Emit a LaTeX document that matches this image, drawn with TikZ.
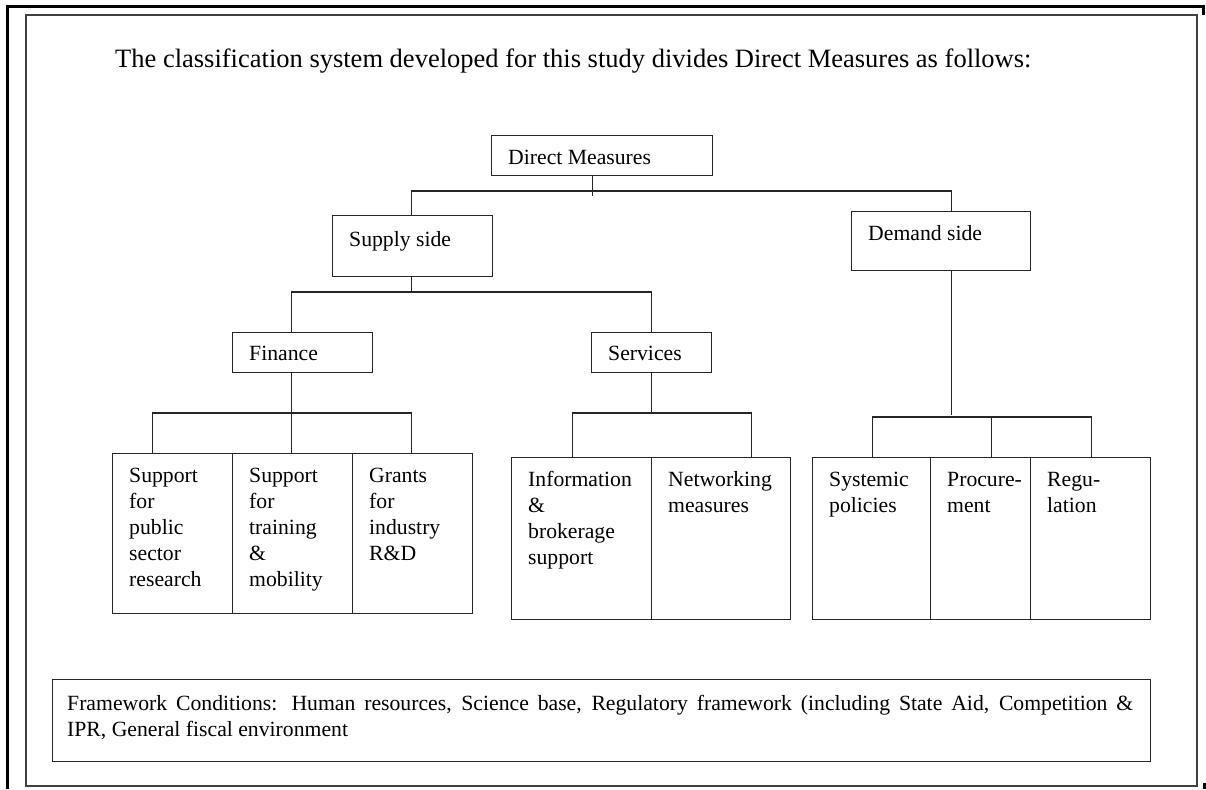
\documentclass[tikz,border=0pt]{standalone}
\usepackage{fontspec}
\setmainfont{Liberation Serif}
\usetikzlibrary{calc}
\tikzset{
  ln/.style={line width=1.2pt, draw=black!85},
  boxst/.style={ln, rectangle, inner sep=0pt},
  txt/.style={inner sep=0pt, anchor=base west, font=\fontsize{21.7}{26}\selectfont},
  titletxt/.style={inner sep=0pt, anchor=base west, font=\fontsize{26.5}{32}\selectfont},
  frameouter/.style={line width=3pt, draw=black},
  frameinner/.style={line width=1.5pt, draw=black!75},
}
% name, x1, y1, x2, y2, baseline offset, text
\newcommand\mybx[7]{%
  \node[boxst, anchor=north west, minimum width={#4-#2}, minimum height={#5-#3}] (#1) at (#2,#3) {};
  \node[txt] (#1t) at ([shift={(17,#6)}]#1.north west) {\begin{tabular}[t]{@{}l@{}}#7\end{tabular}};
}
\begin{document}
\begin{tikzpicture}[x=1pt,y=-1pt]
\useasboundingbox (0,0) rectangle (1206,789);
% frames
\draw[frameouter] (7,789) -- (7,7) -- (1203,7) -- (1203,15);
\draw[frameouter] (1204.5,783) -- (1204.5,789);
\draw[frameinner] (26,15) rectangle (1197,786);
% title
\node[titletxt] (title) at (115,68) {The classification system developed for this study divides Direct Measures as follows:};
% boxes
\mybx{dm}{491}{135}{712}{175}{29}{Direct Measures}
\mybx{sup}{332}{215}{492}{276}{31}{Supply side}
\mybx{dem}{851}{211}{1030}{270}{29}{Demand side}
\mybx{fin}{232}{332}{372}{372}{28}{Finance}
\mybx{srv}{591}{332}{711}{372}{28}{Services}
\mybx{fa}{112}{453}{232}{613}{29}{Support\\for\\public\\sector\\research}
\mybx{fb}{232}{453}{352}{613}{29}{Support\\for\\training\\\&\\mobility}
\mybx{fc}{352}{453}{472}{613}{29}{Grants\\for\\industry\\R\&D}
\mybx{sa}{511}{457}{651}{619}{29}{Information\\\&\\brokerage\\support}
\mybx{sb}{651}{457}{790}{619}{29}{Networking\\measures}
\mybx{da}{812}{457}{930}{619}{29}{Systemic\\policies}
\mybx{db}{930}{457}{1030}{619}{29}{Procure-\\ment}
\mybx{dc}{1030}{457}{1150}{619}{29}{Regu-\\lation}
% framework box
\node[boxst, anchor=north west, minimum width=1098, minimum height=82] (fw) at (52,679) {};
\node[txt] (fwt) at ([shift={(15,31)}]fw.north west) {\parbox[t]{1066pt}{Framework Conditions: Human resources, Science base, Regulatory framework (including State Aid, Competition \&\linebreak IPR, General fiscal environment}};
% connectors
\coordinate (jtop) at (592,191);
\draw[ln] ([xshift=-9.5]dm.south) -- ++(0,20);
\draw[ln] ([xshift=-1]sup.north) |- (jtop) -| ([xshift=10.5]dem.north);
\draw[ln] ([xshift=-1]sup.south) -- ++(0,16);
\draw[ln] ([xshift=-11]fin.north) |- ([yshift=40]srv.north) -- (srv.north);
\draw[ln] ([xshift=-11]fin.south) -- ([xshift=-1]fb.north);
\draw[ln] ([xshift=-20]fa.north) |- ([xshift=-1,yshift=40]fc.north) -- ([xshift=-1]fc.north);
\draw[ln] (srv.south) -- ++(0,41);
\draw[ln] ([xshift=-9]sa.north) |- ([xshift=30.5,yshift=44]sb.north) -- ([xshift=30.5]sb.north);
\draw[ln] ([xshift=10.5]dem.south) -- ++(0,144);
\draw[ln] ([xshift=0.5]da.north) |- ([xshift=1,yshift=40]dc.north) -- ([xshift=1]dc.north);
\draw[ln] ([xshift=11]db.north) -- ++(0,-40);
\end{tikzpicture}
\end{document}
